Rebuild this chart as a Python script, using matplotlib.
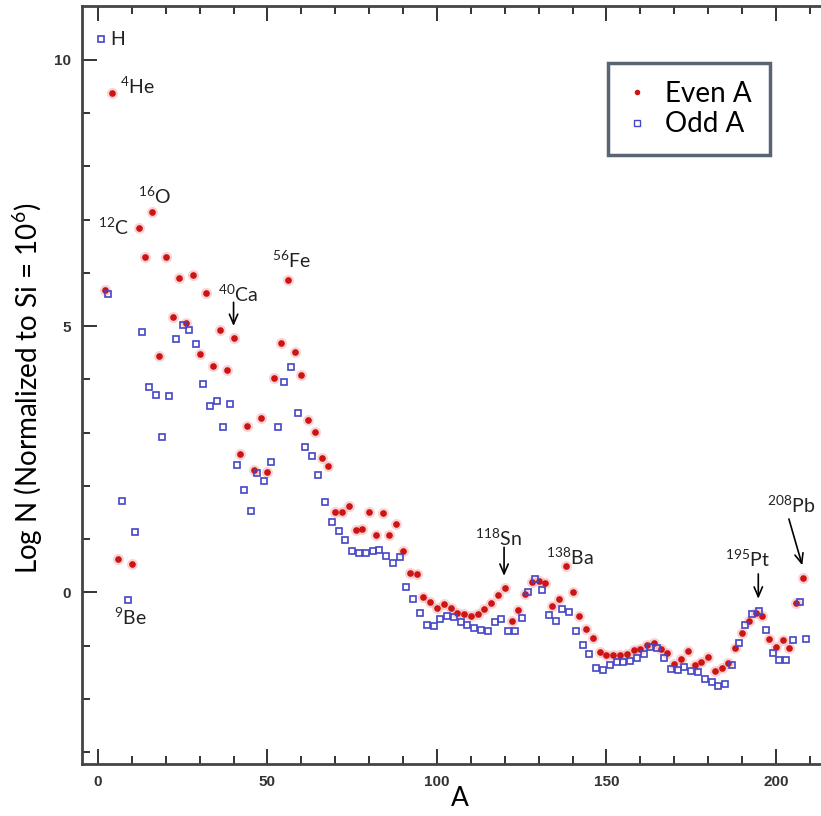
import matplotlib
matplotlib.use("Agg")
import matplotlib.pyplot as plt
from matplotlib.lines import Line2D

plt.rcParams['font.family'] = ['Lato', 'DejaVu Sans']
plt.rcParams['mathtext.fontset'] = 'custom'
plt.rcParams['mathtext.rm'] = 'Lato'
plt.rcParams['mathtext.it'] = 'Lato:italic'
plt.rcParams['mathtext.bf'] = 'Lato:bold'

# even mass numbers
even_a = [2, 4, 6, 10, 12, 14, 16, 18, 20, 22, 24, 26, 28, 30, 32, 34, 36, 38, 40,
          42, 44, 46, 48, 50, 52, 54, 56, 58, 60, 62, 64, 66, 68, 70, 72, 74, 76, 78,
          80, 82, 84, 86, 88, 90, 92, 94, 96, 98, 100, 102, 104, 106, 108, 110, 112,
          114, 116, 118, 120, 122, 124, 126, 128, 130, 132, 134, 136, 138, 140, 142,
          144, 146, 148, 150, 152, 154, 156, 158, 160, 162, 164, 166, 168, 170, 172,
          174, 176, 178, 180, 182, 184, 186, 188, 190, 192, 194, 196, 198, 200, 202,
          204, 206, 208]
even_logn = [5.68, 9.37, 0.63, 0.53, 6.84, 6.29, 7.14, 4.44, 6.29, 5.17, 5.90, 5.05,
             5.96, 4.48, 5.62, 4.26, 4.92, 4.18, 4.78, 2.60, 3.12, 2.30, 3.27, 2.26,
             4.02, 4.69, 5.87, 4.52, 4.09, 3.24, 3.01, 2.53, 2.37, 1.51, 1.52, 1.63,
             1.18, 1.19, 1.52, 1.07, 1.49, 1.07, 1.28, 0.77, 0.36, 0.35, -0.08, -0.18,
             -0.30, -0.21, -0.29, -0.39, -0.41, -0.44, -0.40, -0.31, -0.19, -0.05, 0.08,
             -0.53, -0.33, -0.03, 0.19, 0.22, 0.18, -0.26, -0.12, 0.50, 0.00, -0.44,
             -0.69, -0.86, -1.11, -1.18, -1.17, -1.17, -1.16, -1.08, -1.07, -0.99,
             -0.95, -1.06, -1.13, -1.34, -1.24, -1.10, -1.36, -1.31, -1.22, -1.47,
             -1.41, -1.33, -1.05, -0.76, -0.54, -0.38, -0.45, -0.87, -1.03, -0.90,
             -1.04, -0.20, 0.27]

# odd mass numbers
odd_a = [1, 3, 7, 9, 11, 13, 15, 17, 19, 21, 23, 25, 27, 29, 31, 33, 35, 37, 39, 41,
         43, 45, 47, 49, 51, 53, 55, 57, 59, 61, 63, 65, 67, 69, 71, 73, 75, 77, 79,
         81, 83, 85, 87, 89, 91, 93, 95, 97, 99, 101, 103, 105, 107, 109, 111, 113,
         115, 117, 119, 121, 123, 125, 127, 129, 131, 133, 135, 137, 139, 141, 143,
         145, 147, 149, 151, 153, 155, 157, 159, 161, 163, 165, 167, 169, 171, 173,
         175, 177, 179, 181, 183, 185, 187, 189, 191, 193, 195, 197, 199, 201, 203,
         205, 207, 209]
odd_logn = [10.39, 5.60, 1.71, -0.14, 1.13, 4.89, 3.85, 3.71, 2.92, 3.68, 4.76, 5.02,
            4.92, 4.67, 3.92, 3.51, 3.60, 3.10, 3.54, 2.40, 1.93, 1.53, 2.25, 2.10,
            2.45, 3.10, 3.96, 4.24, 3.37, 2.74, 2.56, 2.21, 1.70, 1.33, 1.16, 0.98,
            0.78, 0.74, 0.75, 0.77, 0.80, 0.69, 0.56, 0.66, 0.10, -0.12, -0.38, -0.61,
            -0.63, -0.49, -0.44, -0.46, -0.56, -0.61, -0.66, -0.70, -0.73, -0.55,
            -0.49, -0.72, -0.72, -0.47, 0.00, 0.26, 0.05, -0.43, -0.54, -0.31, -0.36,
            -0.73, -0.98, -1.15, -1.41, -1.45, -1.36, -1.31, -1.30, -1.28, -1.23,
            -1.16, -1.03, -1.05, -1.23, -1.43, -1.45, -1.40, -1.47, -1.49, -1.63,
            -1.68, -1.75, -1.71, -1.36, -0.95, -0.61, -0.40, -0.34, -0.70, -1.14,
            -1.26, -1.26, -0.89, -0.17, -0.87]

# isotope labels: text, x, y (baseline)
labels = [r'H', r'$^{4}$He', r'$^{12}$C', r'$^{16}$O', r'$^{56}$Fe', r'$^{40}$Ca',
          r'$^{9}$Be', r'$^{118}$Sn', r'$^{138}$Ba', r'$^{195}$Pt', r'$^{208}$Pb']
label_x = [3.6, 6.5, 0.0, 11.7, 51.3, 35.3, 4.8, 111.3, 132.1, 185.1, 197.5]
label_y = [10.28, 9.36, 6.71, 7.30, 6.09, 5.46, -0.61, 0.88, 0.52, 0.49, 1.49]

# arrows: (start, tip)
arrow_start = [(40, 5.50), (119.8, 0.90), (194.8, 0.40), (203.6, 1.43)]
arrow_tip = [(40, 4.95), (119.8, 0.26), (194.8, -0.17), (208.0, 0.46)]

red = '#cc1414'
blue = '#4646c6'

fig = plt.figure(figsize=(8.21, 8.16), dpi=100)
ax = fig.add_axes([81.7 / 821, 52 / 816, 1 - 81.7 / 821, 758 / 816])

# soft halo like the blurred original
ax.plot(even_a, even_logn, 'o', color='#f4a0a0', ms=8, mew=0, alpha=0.45, zorder=2)
ax.plot(even_a, even_logn, 'o', color=red, ms=4.8, mew=0, zorder=3)
ax.plot(odd_a, odd_logn, 's', mfc='none', mec=blue, ms=5, mew=1.2, zorder=4)

for t, x, y in zip(labels, label_x, label_y):
    ax.text(x, y, t, fontsize=14, ha='left', va='baseline', color='#222222')

for s, e in zip(arrow_start, arrow_tip):
    ax.annotate('', xy=e, xytext=s,
                arrowprops=dict(arrowstyle='->,head_length=0.7,head_width=0.3',
                                color='k', lw=1.2))

ax.set_xlim(-4.8, 213.3)
ax.set_ylim(-3.22, 11.01)
ax.set_xticks([0, 50, 100, 150, 200])
ax.set_xticks(range(0, 211, 10), minor=True)
ax.set_yticks([0, 5, 10])
ax.set_yticks(range(-3, 11), minor=True)
ax.tick_params(which='both', direction='in', top=True, right=False, width=1.4,
               color='#333333', labelsize=11, labelcolor='#333333')
ax.tick_params(which='major', length=11, pad=8)
ax.tick_params(which='minor', length=6)
for lab in ax.get_xticklabels() + ax.get_yticklabels():
    lab.set_fontfamily('Liberation Sans')
    lab.set_fontweight('bold')

for side in ['left', 'bottom', 'top']:
    ax.spines[side].set_linewidth(2)
    ax.spines[side].set_color('#444444')
ax.spines['right'].set_visible(False)

ax.set_xlabel('A', fontsize=19)
ax.xaxis.set_label_coords((460 - 81.7) / (821 - 81.7), -(786 - 764) / 758)
ax.set_ylabel(r'Log N (Normalized to Si = 10$^{6}$)', fontsize=20)
ax.yaxis.set_label_coords(-(81.7 - 45) / (821 - 81.7), (764 - 388) / 758)

handles = [Line2D([], [], ls='none', marker='o', color=red, ms=4, mew=0),
           Line2D([], [], ls='none', marker='s', mfc='none', mec=blue, ms=4, mew=1)]
leg = ax.legend(handles, ['Even A', 'Odd A'], loc='upper left',
                bbox_to_anchor=((608 - 81.7) / (821 - 81.7), (764 - 63) / 758),
                fontsize=20, frameon=True, fancybox=False, handlelength=0.8,
                handletextpad=0.6, borderpad=0.65, labelspacing=0.15, borderaxespad=0)
leg.get_frame().set_edgecolor('#2f3e50')
leg.get_frame().set_linewidth(2.5)

fig.savefig('out.png', dpi=100)
